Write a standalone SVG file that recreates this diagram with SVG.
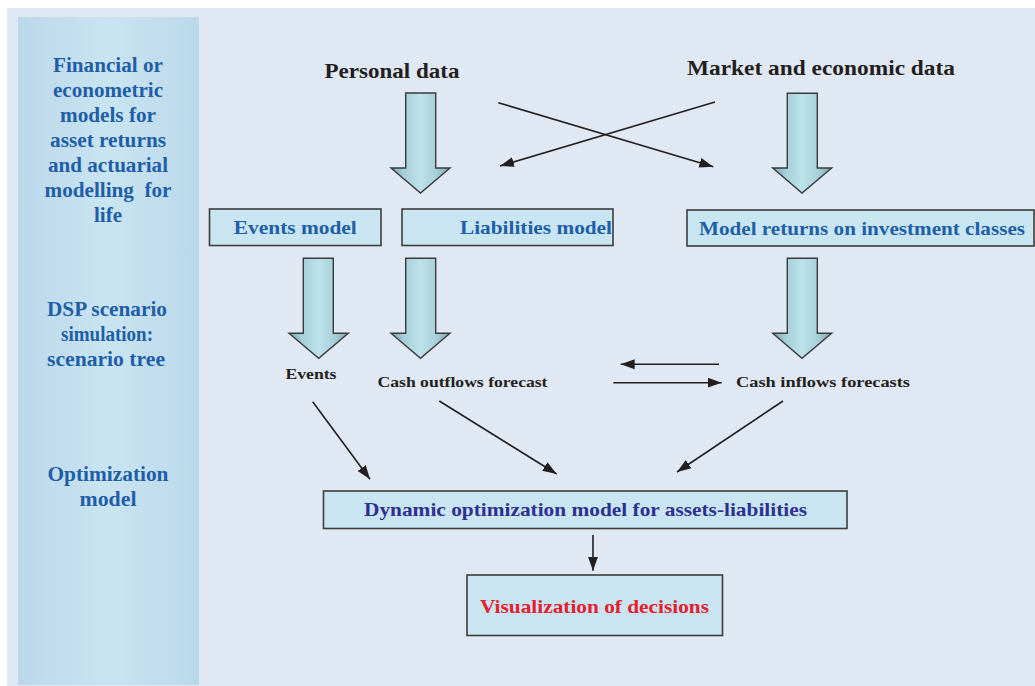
<svg xmlns="http://www.w3.org/2000/svg" width="1035" height="686" viewBox="0 0 1035 686">
<style>
text{font-family:"Liberation Serif","Times New Roman",serif;font-weight:bold;text-anchor:middle}
.side{font-size:20px;fill:#1f5ea8}
.box{fill:#c9e5f1;stroke:#3c3c3c;stroke-width:1.6}
.bt{font-size:19px;fill:#1f5ea8}
.blk{fill:#231f20}
.big{fill:url(#ag);stroke:#3a3a3a;stroke-width:1.4;stroke-linejoin:miter}
.con{stroke:#231f20;stroke-width:1.6;fill:none}
</style>
<defs>
<linearGradient id="pg" x1="0" y1="0" x2="1" y2="0">
<stop offset="0" stop-color="#bbd8eb"/>
<stop offset="0.5" stop-color="#c9e4f1"/>
<stop offset="1" stop-color="#bbd8eb"/>
</linearGradient>
<linearGradient id="ag" x1="0" y1="0" x2="1" y2="0">
<stop offset="0" stop-color="#7ba3ae"/>
<stop offset="0.22" stop-color="#a6cfda"/>
<stop offset="0.5" stop-color="#bde2ea"/>
<stop offset="0.78" stop-color="#a6cfda"/>
<stop offset="1" stop-color="#7ba3ae"/>
</linearGradient>
<marker id="ah" markerUnits="userSpaceOnUse" markerWidth="16" markerHeight="12" refX="14" refY="5" orient="auto" viewBox="0 0 16 10">
<path d="M0,0 L14,5 L0,10 Z" fill="#231f20"/>
</marker>
</defs>
<rect x="0" y="0" width="1035" height="686" fill="#ffffff"/>
<rect x="7" y="8" width="1028" height="678" fill="#e0e8f4"/>
<g id="sidebar">
<rect x="18" y="17" width="181" height="668" fill="url(#pg)"/>
<text class="side" x="108" y="72" textLength="110" lengthAdjust="spacingAndGlyphs">Financial or</text>
<text class="side" x="108" y="97" textLength="110" lengthAdjust="spacingAndGlyphs">econometric</text>
<text class="side" x="108" y="122" textLength="96" lengthAdjust="spacingAndGlyphs">models for</text>
<text class="side" x="108" y="147" textLength="116" lengthAdjust="spacingAndGlyphs">asset returns</text>
<text class="side" x="108" y="172" textLength="120" lengthAdjust="spacingAndGlyphs">and actuarial</text>
<text class="side" x="108" y="197" textLength="127" lengthAdjust="spacingAndGlyphs" xml:space="preserve">modelling  for</text>
<text class="side" x="108" y="222" textLength="28" lengthAdjust="spacingAndGlyphs">life</text>
<text class="side" x="107" y="316" textLength="120" lengthAdjust="spacingAndGlyphs">DSP scenario</text>
<text class="side" x="107" y="341" textLength="92" lengthAdjust="spacingAndGlyphs">simulation:</text>
<text class="side" x="106" y="366" textLength="118" lengthAdjust="spacingAndGlyphs">scenario tree</text>
<text class="side" x="108" y="481" textLength="121" lengthAdjust="spacingAndGlyphs">Optimization</text>
<text class="side" x="108" y="506" textLength="57" lengthAdjust="spacingAndGlyphs">model</text>
</g>
<g id="personal-data">
<text class="blk" x="392" y="78" font-size="21" textLength="135" lengthAdjust="spacingAndGlyphs">Personal data</text>
</g>
<g id="market-data">
<text class="blk" x="821" y="75" font-size="21" textLength="268" lengthAdjust="spacingAndGlyphs">Market and economic data</text>
</g>
<g id="events-model">
<rect class="box" x="209.5" y="209" width="171.5" height="36.5"/>
<text class="bt" x="295.3" y="234" textLength="123" lengthAdjust="spacingAndGlyphs">Events model</text>
</g>
<g id="liabilities-model">
<rect class="box" x="402" y="209" width="211" height="36.5"/>
<text class="bt" x="536" y="234" textLength="152" lengthAdjust="spacingAndGlyphs">Liabilities model</text>
</g>
<g id="model-returns">
<rect class="box" x="687" y="210" width="347" height="36"/>
<text class="bt" x="862" y="235" textLength="326" lengthAdjust="spacingAndGlyphs">Model returns on investment classes</text>
</g>
<g id="events">
<text class="blk" x="311" y="379" font-size="15" textLength="51" lengthAdjust="spacingAndGlyphs">Events</text>
</g>
<g id="cash-outflows">
<text class="blk" x="462.5" y="387" font-size="15" textLength="170" lengthAdjust="spacingAndGlyphs">Cash outflows forecast</text>
</g>
<g id="cash-inflows">
<text class="blk" x="823" y="387" font-size="15" textLength="174" lengthAdjust="spacingAndGlyphs">Cash inflows forecasts</text>
</g>
<g id="dynamic-optimization">
<rect class="box" x="323.5" y="491" width="523.5" height="37.5"/>
<text x="585.5" y="516" font-size="19" fill="#2e3192" textLength="443" lengthAdjust="spacingAndGlyphs">Dynamic optimization model for assets-liabilities</text>
</g>
<g id="visualization">
<rect class="box" x="467" y="575" width="255.5" height="60.5"/>
<text x="594.5" y="613" font-size="19" fill="#e5202e" textLength="229" lengthAdjust="spacingAndGlyphs">Visualization of decisions</text>
</g>
<g id="connectors">
<polygon class="big" points="405.7,93 435.7,93 435.7,168 450,168 420.5,193 391,168 405.7,168"/>
<polygon class="big" points="787.3,93.3 817.3,93.3 817.3,168 831.7,168 802,193 772.7,168 787.3,168"/>
<polygon class="big" points="303.3,258.3 333.3,258.3 333.3,333.3 348.3,333.3 318.7,358.3 289,333.3 303.3,333.3"/>
<polygon class="big" points="405.7,258.3 435.7,258.3 435.7,333.3 450,333.3 420.5,358.3 391,333.3 405.7,333.3"/>
<polygon class="big" points="787.3,258.3 817.3,258.3 817.3,333.3 831.7,333.3 802,358.3 772.7,333.3 787.3,333.3"/>
<line class="con" x1="498.3" y1="102.7" x2="713.3" y2="166.7" marker-end="url(#ah)"/>
<line class="con" x1="715" y1="102" x2="500" y2="166" marker-end="url(#ah)"/>
<line class="con" x1="719" y1="364.3" x2="620.7" y2="364.3" marker-end="url(#ah)"/>
<line class="con" x1="613.3" y1="382.7" x2="721.7" y2="382.7" marker-end="url(#ah)"/>
<line class="con" x1="312.7" y1="401.7" x2="370" y2="479.3" marker-end="url(#ah)"/>
<line class="con" x1="439.3" y1="401" x2="556.7" y2="474" marker-end="url(#ah)"/>
<line class="con" x1="783" y1="401" x2="677" y2="472" marker-end="url(#ah)"/>
<line class="con" x1="593" y1="535" x2="593" y2="570.7" marker-end="url(#ah)"/>
</g>
</svg>
